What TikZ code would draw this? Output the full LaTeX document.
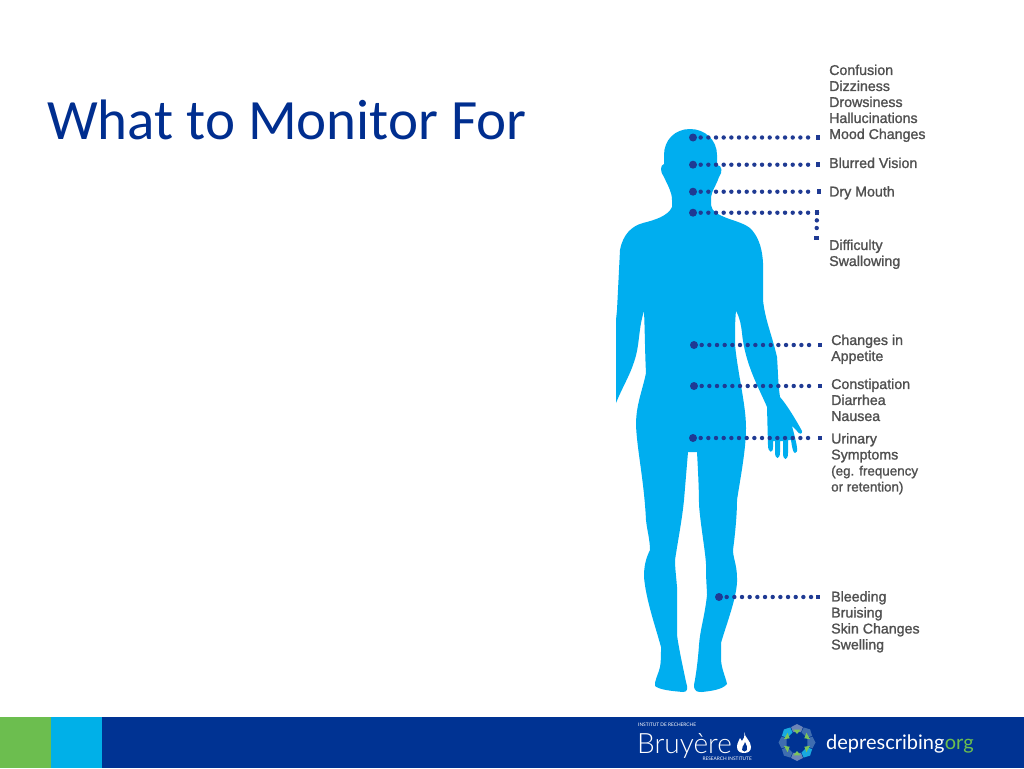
\documentclass[tikz,border=0pt]{standalone}
\usepackage{fontspec}
\setmainfont{Liberation Sans}
\newfontfamily\titlefont{Carlito}
\newfontfamily\labelfont[FakeBold=1.3]{Liberation Sans}
\newfontfamily\logofont{Lato Light}
\newfontfamily\siteFont{Lato}
\definecolor{bodyblue}{HTML}{00AEEF}
\definecolor{leader}{HTML}{1F3A93}
\definecolor{titleblue}{HTML}{002E8F}
\definecolor{footblue}{HTML}{003393}
\definecolor{footgreen}{HTML}{6CBE4F}
\definecolor{footcyan}{HTML}{00B0E8}
\definecolor{labelgrey}{HTML}{505050}
\definecolor{rosA}{HTML}{6C84B8}
\definecolor{rosB}{HTML}{19A9E0}
\definecolor{rosC}{HTML}{3F6DB0}
\definecolor{rosG}{HTML}{7CC45A}
\tikzset{
  lbl/.style={anchor=north west,inner sep=0pt,align=left,text=labelgrey,font=\labelfont\fontsize{14.2}{16}\selectfont},
  startdot/.style={circle,fill=leader,inner sep=0pt,minimum size=8pt},
  enddot/.style={rectangle,fill=leader,inner sep=0pt,minimum size=4.5pt},
  dots/.style={leader,line width=4.4pt,line cap=round,dash pattern=on 0pt off 7.67pt,shorten >=5pt},
  logotxt/.style={inner sep=0pt,text=white}
}
\begin{document}
\begin{tikzpicture}[x=1pt,y=-1pt]
\useasboundingbox (0,0) rectangle (1024,768);
\fill[white] (0,0) rectangle (1024,768);
\node[anchor=base west,inner sep=0pt,text=titleblue,font=\titlefont\fontsize{57}{62}\selectfont] (title) at (47,139) {What to Monitor For};
% body
\fill[bodyblue] (690,129)
 .. controls (675,129) and (664,140) .. (664,155)
 -- (664,164) .. controls (660,165) and (660,172) .. (664,177)
 .. controls (668,186) and (672,192) .. (672,200)
 -- (672,207) .. controls (668,216) and (655,220) .. (643,223)
 .. controls (632,226) and (623,234) .. (620,250)
 -- (617,310) -- (616,320) -- (616,403)
 .. controls (622,388) and (630,375) .. (634,362)
 .. controls (640,345) and (638,330) .. (644,311)
 .. controls (645,335) and (645,355) .. (646,373)
 .. controls (642,392) and (636,405) .. (636,425)
 .. controls (637,450) and (644,480) .. (646,520)
 .. controls (647,530) and (650,540) .. (650,550)
 .. controls (645,560) and (644,568) .. (644,577)
 .. controls (646,600) and (655,625) .. (661,647)
 .. controls (661,655) and (661,662) .. (660,667)
 .. controls (658,675) and (654,682) .. (655,686)
 .. controls (660,690) and (672,691) .. (683,692)
 .. controls (688,692) and (688,688) .. (686,682)
 .. controls (684,672) and (679,650) .. (677,635)
 -- (677,587) .. controls (676,575) and (675,568) .. (675,560)
 .. controls (678,540) and (682,520) .. (684,500)
 -- (688,452) -- (697,452)
 .. controls (698,470) and (699,490) .. (699,505)
 .. controls (701,530) and (707,560) .. (706,570)
 .. controls (706,580) and (707,590) .. (707,595)
 .. controls (705,615) and (700,630) .. (699,645)
 .. controls (698,660) and (696,675) .. (694,685)
 .. controls (694,692) and (698,692) .. (702,692)
 .. controls (710,691) and (722,690) .. (727,684)
 .. controls (725,675) and (721,668) .. (721,658)
 -- (721,643)
 .. controls (726,625) and (738,595) .. (737,578)
 .. controls (737,565) and (733,558) .. (733,550)
 .. controls (735,535) and (737,515) .. (737,500)
 .. controls (740,480) and (746,450) .. (746,428)
 .. controls (746,405) and (738,375) .. (735,345)
 .. controls (735,330) and (735,320) .. (736,311)
 .. controls (740,318) and (741,325) .. (742,333)
 .. controls (745,365) and (760,390) .. (767,407)
 -- (768,445) .. controls (768,453) and (773,454) .. (773,447)
 -- (773,441) -- (775,441) -- (775,452)
 .. controls (775,460) and (780,460) .. (780,452)
 -- (780,441) -- (783,441) -- (783,453)
 .. controls (783,461) and (788,461) .. (788,453)
 -- (788,440) -- (791,440)
 .. controls (792,447) and (793,453) .. (795,453)
 .. controls (799,453) and (797,445) .. (792,426)
 -- (797,431) .. controls (799,435) and (803,434) .. (802,431)
 .. controls (796,420) and (787,405) .. (780,397)
 .. controls (778,385) and (778,370) .. (777,357)
 .. controls (772,335) and (765,320) .. (763,300)
 -- (763,263) .. controls (762,245) and (757,235) .. (750,228)
 .. controls (742,222) and (730,220) .. (722,216)
 .. controls (718,214) and (712,212) .. (711,205)
 -- (711,197) .. controls (712,190) and (717,184) .. (719,177)
 .. controls (723,172) and (722,165) .. (717,165)
 -- (717,155) .. controls (717,140) and (705,129) .. (690,129) -- cycle;
% leaders
\node[enddot] (e1) at (818,137.5) {};
\node[enddot] (e2) at (818,164.7) {};
\node[enddot] (e3) at (819,191.7) {};
\node[enddot] (e4) at (817,212.7) {};
\node[enddot] (e4b) at (816.5,238) {};
\node[enddot] (e5) at (820,345) {};
\node[enddot] (e6) at (820,386) {};
\node[enddot] (e7) at (820,438) {};
\node[enddot] (e8) at (818,597) {};
\node[startdot] (s1) at (693,137.5) {};
\node[startdot] (s2) at (693,164.7) {};
\node[startdot] (s3) at (693,191.7) {};
\node[startdot] (s4) at (693,212.7) {};
\node[startdot] (s5) at (694,345) {};
\node[startdot] (s6) at (694,386) {};
\node[startdot] (s7) at (693,438) {};
\node[startdot] (s8) at (719,597) {};
\draw[dots] (s1.center) -- (e1.center);
\draw[dots] (s2.center) -- (e2.center);
\draw[dots] (s3.center) -- (e3.center);
\draw[dots] (s4.center) -- (e4.center);
\draw[dots] (e4.center) -- (e4b.center);
\draw[dots] (s5.center) -- (e5.center);
\draw[dots] (s6.center) -- (e6.center);
\draw[dots] (s7.center) -- (e7.center);
\draw[dots] (s8.center) -- (e8.center);
% labels
\node[lbl] (l1) at (829,64.5) {Confusion\\Dizziness\\Drowsiness\\Hallucinations\\Mood Changes};
\node[lbl] (l2) at (829,157.5) {Blurred Vision};
\node[lbl] (l3) at (829,186) {Dry Mouth};
\node[lbl] (l4) at (829,239.5) {Difficulty\\Swallowing};
\node[lbl] (l5) at (831,334.5) {Changes in\\Appetite};
\node[lbl] (l6) at (831,378.5) {Constipation\\Diarrhea\\Nausea};
\node[lbl] (l7) at (831,433) {Urinary\\Symptoms\\{\fontsize{13.4}{16}\selectfont (eg. frequency}\\{\fontsize{13.4}{16}\selectfont or retention)}};
\node[lbl] (l8) at (831,591) {Bleeding\\Bruising\\Skin Changes\\Swelling};
% footer
\fill[footblue] (102,717) rectangle (1024,768);
\fill[footgreen] (0,717) rectangle (51,768);
\fill[footcyan] (51,717) rectangle (102,768);
% Bruyere logo
\node[logotxt,anchor=base west,font=\siteFont\fontsize{4.8}{5}\selectfont] (inst) at (638,726.5) {INSTITUT DE RECHERCHE};
\node[logotxt,anchor=base west,font=\logofont\fontsize{28}{30}\selectfont] (bru) at (637,753) {Bruyère};
\node[logotxt,anchor=base east,font=\siteFont\fontsize{4.8}{5}\selectfont] (res) at (752,760.5) {RESEARCH INSTITUTE};
\fill[white] (744,732) .. controls (745,738) and (751,741) .. (751,747) .. controls (751,751) and (748,753) .. (744,753)
 .. controls (740,753) and (737,751) .. (737,747) .. controls (737,743) and (739,741) .. (740,738) .. controls (741,740) and (742,741) .. (742,741) .. controls (744,739) and (745,736) .. (744,732) -- cycle;
\fill[footblue] (745,742) .. controls (746,745) and (748,747) .. (747,750) .. controls (746,752) and (743,752) .. (742,750) .. controls (741,747) and (744,746) .. (745,742) -- cycle;
% rosette
\begin{scope}[shift={(797,742.5)}]
\foreach \a/\c in {90/rosA,270/rosA,45/rosB,225/rosB,135/rosC,315/rosC,0/rosC,180/rosC}{
  \fill[\c] ({\a-21}:11) -- ({\a-21}:16.5) -- (\a:18.5) -- ({\a+21}:16.5) -- ({\a+21}:11) -- cycle;
}
\foreach \a in {0,60,...,300}{
  \fill[rosG] ({\a+90-16}:13.5) -- ({\a+90+16}:13.5) -- ({\a+90}:8.5) -- cycle;
}
\end{scope}
% deprescribing
\node[logotxt,anchor=base west,font=\siteFont\fontsize{20}{22}\selectfont] (dep) at (826,749) {deprescribing};
\node[logotxt,anchor=base west,text=footgreen,font=\siteFont\fontsize{20}{22}\selectfont] (org) at (dep.base east) {org};
\end{tikzpicture}
\end{document}
